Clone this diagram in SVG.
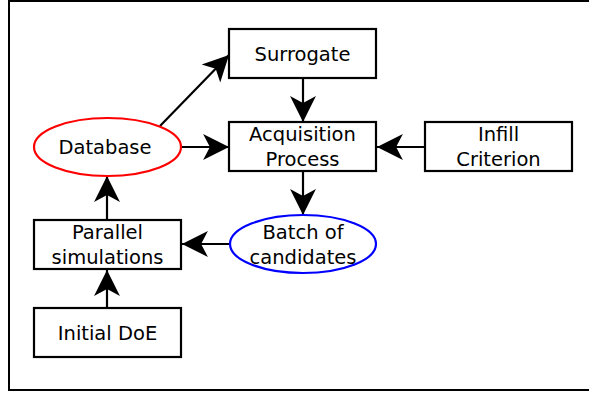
<svg xmlns="http://www.w3.org/2000/svg" width="589" height="393" viewBox="0 0 589 393">
<style>
.box{fill:#fff;stroke:#000;stroke-width:2.2}
.t{font-family:"DejaVu Sans",sans-serif;font-size:19.5px;text-anchor:middle;fill:#000}
.c{stroke:#000;stroke-width:2.2;fill:none;marker-end:url(#ah)}
</style>
<defs>
<marker id="ah" markerUnits="userSpaceOnUse" orient="auto" refX="0" refY="0" markerWidth="30" markerHeight="30" viewBox="-20 -10 22 20" overflow="visible">
<path d="M0,0 L-19,-9.5 L-14,0 L-19,9.5 Z" fill="#000"/>
</marker>
</defs>
<rect x="9" y="1" width="600" height="389" fill="#fff" stroke="#000" stroke-width="2"/>
<g id="connectors">
<path class="c" d="M160,126 L229,55"/>
<path class="c" d="M181,147 L229,147"/>
<path class="c" d="M303,78 L303,122"/>
<path class="c" d="M425,147 L377,147"/>
<path class="c" d="M303,171 L303,215"/>
<path class="c" d="M230,244 L182,244"/>
<path class="c" d="M107,220 L107,176"/>
<path class="c" d="M107,308 L107,270"/>
</g>
<g id="surrogate"><rect class="box" x="229" y="29" width="147" height="49"/><text class="t" x="302.5" y="61">Surrogate</text></g>
<g id="acquisition"><rect class="box" x="229" y="122" width="147" height="49"/><text class="t" x="302.5" y="141">Acquisition</text><text class="t" x="302.5" y="166">Process</text></g>
<g id="infill"><rect class="box" x="425" y="122" width="147" height="49"/><text class="t" x="498.5" y="141">Infill</text><text class="t" x="498.5" y="166">Criterion</text></g>
<g id="database"><ellipse cx="107.5" cy="147" rx="73.5" ry="29" fill="#fff" stroke="#ff0000" stroke-width="2.2"/><text class="t" x="105" y="154">Database</text></g>
<g id="batch"><ellipse cx="303" cy="244" rx="73" ry="29" fill="#fff" stroke="#0000ff" stroke-width="2.2"/><text class="t" x="303" y="239">Batch of</text><text class="t" x="303" y="264">candidates</text></g>
<g id="parallel"><rect class="box" x="34" y="220" width="147" height="49"/><text class="t" x="107.5" y="239">Parallel</text><text class="t" x="107.5" y="264">simulations</text></g>
<g id="initial"><rect class="box" x="34" y="308" width="147" height="49"/><text class="t" x="107.5" y="340">Initial DoE</text></g>
</svg>
